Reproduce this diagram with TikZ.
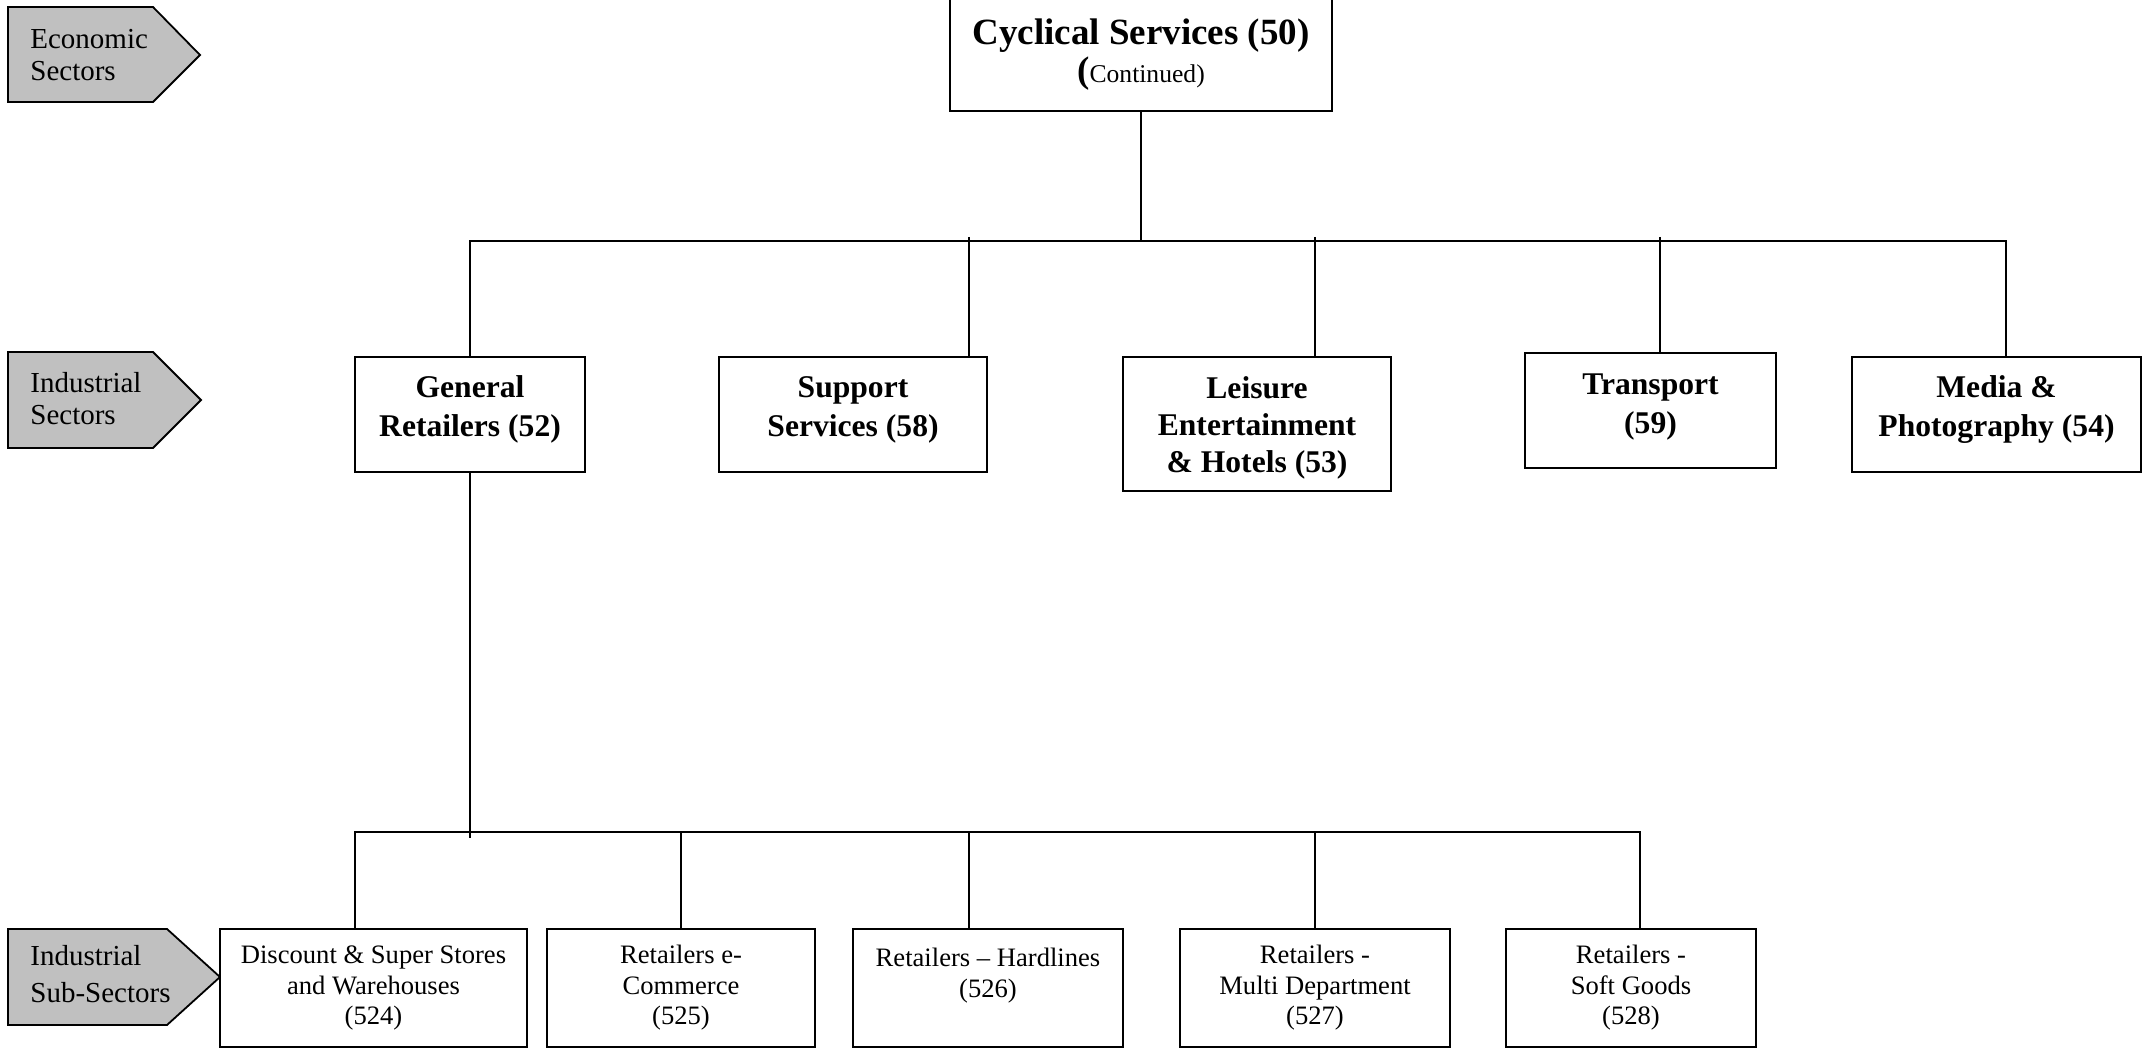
\documentclass[tikz,border=0pt]{standalone}
\usepackage{fontspec}
\setmainfont{Liberation Serif}
\usetikzlibrary{calc}
\definecolor{tagfill}{HTML}{C0C0C0}
\begin{document}
\begin{tikzpicture}[x=0.5pt,y=-0.5pt,
  box/.style={draw=black, line width=0.9pt, fill=white, align=center, inner sep=0pt},
  raised/.style={execute at end node={\rule[-#1]{0pt}{0pt}}},
  raised/.default=8pt,
  sector/.style={box, font=\bfseries\fontsize{15.8}{19.5}\selectfont},
  subsector/.style={box, font=\fontsize{13.3}{15.25}\selectfont, minimum height=59pt},
  tag/.style={draw=black, line width=0.9pt, fill=tagfill},
  taglabel/.style={align=left, anchor=west, inner sep=0pt},
  link/.style={draw=black, line width=0.9pt}]
\useasboundingbox (0,0) rectangle (2147,1048);

% left-hand level tags
\filldraw[tag] (8,7) -- (153,7) -- (200,55) -- (153,102) -- (8,102) -- cycle;
\node[taglabel, font=\fontsize{14.5}{16}\selectfont] (econ) at (30,55) {Economic\\Sectors};
\filldraw[tag] (8,352) -- (153,352) -- (201,400) -- (153,448) -- (8,448) -- cycle;
\node[taglabel, font=\fontsize{14.5}{16}\selectfont] (indsec) at (30,399) {Industrial\\Sectors};
\filldraw[tag] (8,929) -- (167,929) -- (220,977) -- (167,1025) -- (8,1025) -- cycle;
\node[taglabel, font=\fontsize{14.5}{18.5}\selectfont] (indsub) at (30,974) {Industrial\\Sub-Sectors};

% economic sector
\node[box, minimum width=191pt, minimum height=56pt,
      font=\bfseries\fontsize{18.5}{19}\selectfont] (top) at (1141,55)
  {Cyclical Services (50)\\(\mdseries\fontsize{12.8}{19}\selectfont Continued)};

% industrial sectors
\node[sector, raised, minimum width=115pt, minimum height=57.5pt] (gr) at (470,414.5) {General\\Retailers (52)};
\node[sector, raised, minimum width=134pt, minimum height=57.5pt] (sup) at (853,414.5) {Support\\Services (58)};
\node[sector, font=\bfseries\fontsize{15.8}{18.6}\selectfont, minimum width=134pt, minimum height=67pt] (leis) at (1257,424)
  {\rule{0pt}{15pt}Leisure\\Entertainment\\\& Hotels (53)};
\node[sector, raised=7pt, minimum width=125.5pt, minimum height=57.5pt] (trans) at (1650.5,410.5) {Transport\\(59)};
\node[sector, raised, minimum width=144.5pt, minimum height=57.5pt] (media) at (1996.5,414.5) {Media \&\\Photography (54)};

% industrial sub-sectors
\node[subsector, minimum width=153.5pt] (disc) at (373.5,988) {Discount \& Super Stores\\and Warehouses\\(524)};
\node[subsector, minimum width=134pt] (ecom) at (681,988) {Retailers e-\\Commerce\\(525)};
\node[subsector, minimum width=135pt] (hard) at (988,988) {Retailers -- Hardlines\\(526)\\\mbox{}};
\node[subsector, minimum width=135pt] (multi) at (1315,988) {Retailers -\\Multi Department\\(527)};
\node[subsector, minimum width=125pt] (soft) at (1631,988) {Retailers -\\Soft Goods\\(528)};

% upper connectors
\coordinate (busTop) at (1141,241);
\coordinate (barL) at (470,241);
\coordinate (barR) at (2006,241);
\coordinate (supT) at (969,237);
\coordinate (leisT) at (1315,237);
\coordinate (transT) at (1660,237);
\draw[link] (top.south) -- (busTop);
\draw[link] (gr.north) -- (barL) -- (barR) -- (barR |- media.north);
\draw[link] (supT) -- (supT |- sup.north);
\draw[link] (leisT) -- (leisT |- leis.north);
\draw[link] (transT) -- (transT |- trans.north);

% lower connectors
\coordinate (grEnd) at (470,838);
\coordinate (subL) at (355,832);
\coordinate (subR) at (1640,832);
\coordinate (hardT) at (969,832);
\draw[link] (gr.south) -- (grEnd);
\draw[link] (subL |- disc.north) -- (subL) -- (subR) -- (subR |- soft.north);
\draw[link] (ecom.north |- subL) -- (ecom.north);
\draw[link] (hardT) -- (hardT |- hard.north);
\draw[link] (multi.north |- subL) -- (multi.north);
\end{tikzpicture}
\end{document}
